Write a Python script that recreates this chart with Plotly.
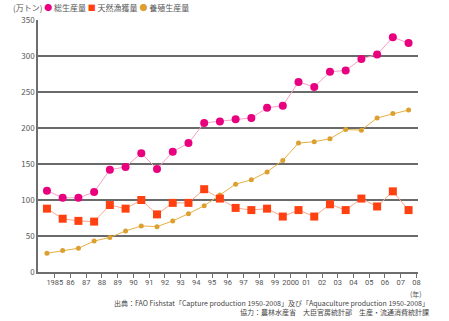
import plotly.graph_objects as go

years = list(range(1985, 2009))
tick_labels = ["1985", "86", "87", "88", "89", "90", "91", "92", "93", "94", "95", "96",
               "97", "98", "99", "2000", "01", "02", "03", "04", "05", "06", "07", "08"]
total = [113, 103, 103, 111, 142, 146, 165, 143, 167, 179, 207, 209,
         212, 214, 228, 231, 264, 257, 278, 280, 296, 302, 326, 318]
capture = [88, 74, 71, 70, 93, 88, 100, 80, 96, 96, 115, 102,
           89, 86, 88, 77, 86, 77, 94, 86, 102, 91, 112, 86]
aquaculture = [26, 30, 33, 43, 48, 57, 64, 63, 71, 81, 92, 107,
               122, 128, 139, 155, 179, 181, 185, 198, 197, 214, 220, 225]

fig = go.Figure()
fig.add_trace(go.Scatter(x=years, y=aquaculture, mode="lines+markers", name="養殖生産量",
                         line=dict(color="#E8B040", width=1),
                         marker=dict(color="#DCA030", size=5, symbol="circle")))
fig.add_trace(go.Scatter(x=years, y=capture, mode="lines+markers", name="天然漁獲量",
                         line=dict(color="#F9A88C", width=1),
                         marker=dict(color="#FF4010", size=8, symbol="square")))
fig.add_trace(go.Scatter(x=years, y=total, mode="lines+markers", name="総生産量",
                         line=dict(color="#F7A0C8", width=1),
                         marker=dict(color="#E8007E", size=8, symbol="circle")))

font_family = "Noto Sans CJK JP, Noto Sans, sans-serif"

fig.update_layout(
    width=449, height=321,
    margin=dict(l=38, r=31, t=20, b=49),
    paper_bgcolor="white", plot_bgcolor="white",
    showlegend=False,
    font=dict(family=font_family, size=8, color="#555555"),
    xaxis=dict(range=[1984.43, 2008.6],
               tickvals=[y + 0.5 for y in years], ticktext=tick_labels,
               showgrid=False, zeroline=False,
               showline=True, linecolor="#6E6E6E", linewidth=1.5,
               ticks="outside", ticklen=4, tickcolor="#6E6E6E", tickwidth=1,
               ticklabelstandoff=-2,
               tickfont=dict(size=7.5, color="#555555", family="Liberation Sans Narrow, Roboto, sans-serif")),
    yaxis=dict(range=[0, 350], tickvals=[0, 50, 100, 150, 200, 250, 300, 350],
               showgrid=True, gridcolor="#6A6A6A", gridwidth=1.5,
               zeroline=False, showline=True, linecolor="#6E6E6E", linewidth=1.5,
               ticks="", tickfont=dict(size=8, color="#555555")),
)

fig.add_annotation(
    xref="paper", yref="paper", x=-0.072, y=1.0, yshift=5, xanchor="left", yanchor="bottom",
    showarrow=False, align="left",
    font=dict(size=8, color="#555555", family=font_family),
    text=("(万トン) <span style='color:#E8007E'>●</span> 総生産量 "
          "<span style='color:#FF4010'>■</span> 天然漁獲量 "
          "<span style='color:#DCA030'>●</span> 養殖生産量"),
)
fig.add_annotation(
    xref="x", yref="paper", x=2008.5, y=0, yshift=-15, xanchor="center", yanchor="top",
    showarrow=False, font=dict(size=7, color="#555555", family=font_family),
    text="(年)",
)
fig.add_annotation(
    xref="paper", yref="paper", x=1.033, y=0, yshift=-24, xanchor="right", yanchor="top",
    showarrow=False, align="right",
    font=dict(size=7, color="#444444", family=font_family),
    text=("出典：FAO Fishstat「Capture production 1950-2008」及び「Aquaculture production 1950-2008」"
          "<br>協力：農林水産省　大臣官房統計部　生産・流通消費統計課"),
)

fig.write_html("out.html")
